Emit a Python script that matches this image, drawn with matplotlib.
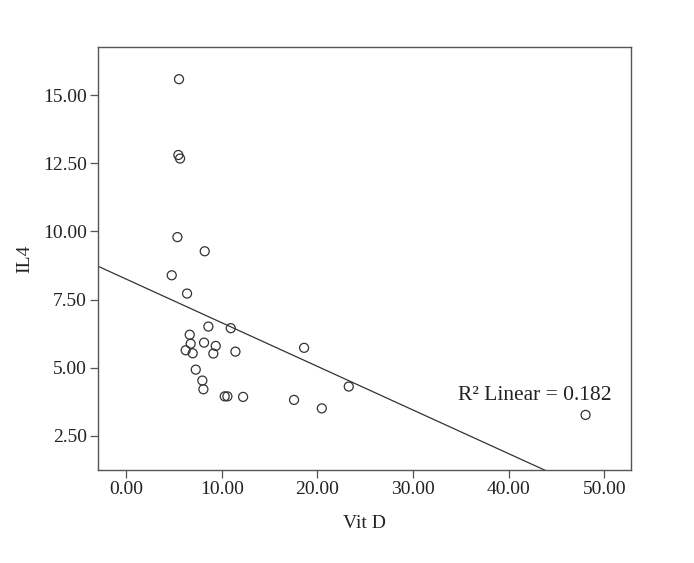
import matplotlib
matplotlib.use("Agg")
import matplotlib.pyplot as plt
import numpy as np

# Vit D vs IL4 scatter with linear fit
vit_d = [5.54, 5.47, 5.65, 5.37, 8.23, 4.78, 6.38, 8.61, 10.95, 6.66,
         6.76, 8.16, 9.38, 6.24, 6.97, 9.13, 11.44, 7.29, 7.98, 8.09,
         10.32, 10.60, 12.24, 18.62, 17.57, 20.47, 23.29, 48.05]
il4 = [15.58, 12.80, 12.67, 9.79, 9.27, 8.39, 7.72, 6.51, 6.45, 6.21,
       5.88, 5.92, 5.80, 5.64, 5.53, 5.52, 5.59, 4.93, 4.53, 4.21,
       3.95, 3.95, 3.93, 5.73, 3.82, 3.51, 4.31, 3.27]
x_ticks = [0, 10, 20, 30, 40, 50]
y_ticks = [2.5, 5.0, 7.5, 10.0, 12.5, 15.0]

plt.rcParams["font.family"] = ["Liberation Serif", "DejaVu Serif"]
plt.rcParams["font.size"] = 14

fig = plt.figure(figsize=(6.94, 5.63), dpi=100)
ax = fig.add_axes([98 / 694, 1 - 470 / 563, 533 / 694, 423 / 563])

ax.scatter(vit_d, il4, s=42, facecolors="none", edgecolors="#333333",
           linewidths=0.9, zorder=3)

xlim = (-2.93, 52.8)
ylim = (1.25, 16.76)
slope, icpt = np.polyfit(vit_d, il4, 1)
xs = np.array(xlim)
ax.plot(xs, slope * xs + icpt, color="#333333", lw=0.9)

ax.set_xlim(*xlim)
ax.set_ylim(*ylim)
ax.set_xticks(x_ticks)
ax.set_yticks(y_ticks)
ax.xaxis.set_major_formatter(matplotlib.ticker.FormatStrFormatter("%.2f"))
ax.yaxis.set_major_formatter(matplotlib.ticker.FormatStrFormatter("%.2f"))
ax.tick_params(direction="out", length=6, width=0.9, color="#555555",
               labelcolor="#222222", pad=2)
for sp in ax.spines.values():
    sp.set_color("#555555")
    sp.set_linewidth(1.0)

ax.set_xlabel("Vit D", labelpad=12, color="#222222")
ax.set_ylabel("IL4", labelpad=7, color="#222222")

ax.text(34.7, 4.0, "R\u00b2 Linear = 0.182", ha="left", va="center",
        color="#222222", fontsize=15.5)

fig.savefig("out.png", dpi=100)
